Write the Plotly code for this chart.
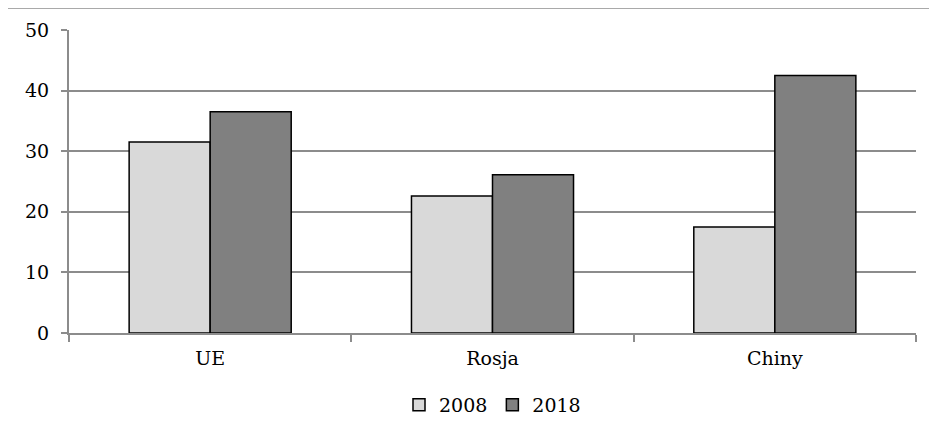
import plotly.graph_objects as go

categories = ["UE", "Rosja", "Chiny"]
series_names = ["2008", "2018"]
values_2008 = [31.5, 22.6, 17.5]
values_2018 = [36.5, 26.1, 42.5]
y_ticks = [0, 10, 20, 30, 40, 50]

FONT = "DejaVu Serif"
FS = 19

fig = go.Figure()
fig.add_trace(go.Bar(x=categories, y=values_2008, name=series_names[0],
                     marker=dict(color="#d9d9d9", line=dict(color="black", width=1.5))))
fig.add_trace(go.Bar(x=categories, y=values_2018, name=series_names[1],
                     marker=dict(color="#808080", line=dict(color="black", width=1.5))))

W, H = 929, 419
fig.update_layout(
    width=W, height=H,
    margin=dict(l=61, r=21, t=22, b=94, autoexpand=False),
    paper_bgcolor="white", plot_bgcolor="white",
    font=dict(family=FONT, size=FS, color="black"),
    barmode="group", bargap=0.426, bargroupgap=0,
    showlegend=True,
    legend=dict(orientation="h", x=0.5, xanchor="center", yref="container",
                y=22 / H, yanchor="middle",
                font=dict(family=FONT, size=FS), tracegroupgap=0),
    xaxis=dict(showline=True, linecolor="#8c8c8c", linewidth=2,
               ticks="outside", tickson="boundaries", ticklen=7, tickcolor="#8c8c8c", tickwidth=2,
               showgrid=False, tickfont=dict(family=FONT, size=FS), ticklabelstandoff=7),
    yaxis=dict(range=[0, 50], tickvals=y_ticks, showline=True, linecolor="#8c8c8c", linewidth=2,
               ticks="outside", ticklen=6, tickcolor="#8c8c8c", tickwidth=2,
               showgrid=True, gridcolor="#8c8c8c", gridwidth=2, zeroline=False,
               tickfont=dict(family=FONT, size=FS), ticklabelstandoff=8),
    shapes=[
        dict(type="line", xref="paper", yref="paper", x0=-0.0732, x1=1.1, y0=1.0726, y1=1.0726,
             line=dict(color="#8c8c8c", width=1.5)),
        dict(type="line", xref="paper", yref="paper", x0=-0.0732, x1=-0.0732, y0=-0.4, y1=1.0726,
             line=dict(color="#8c8c8c", width=1.5)),
    ],
)

fig.write_html("out.html")
